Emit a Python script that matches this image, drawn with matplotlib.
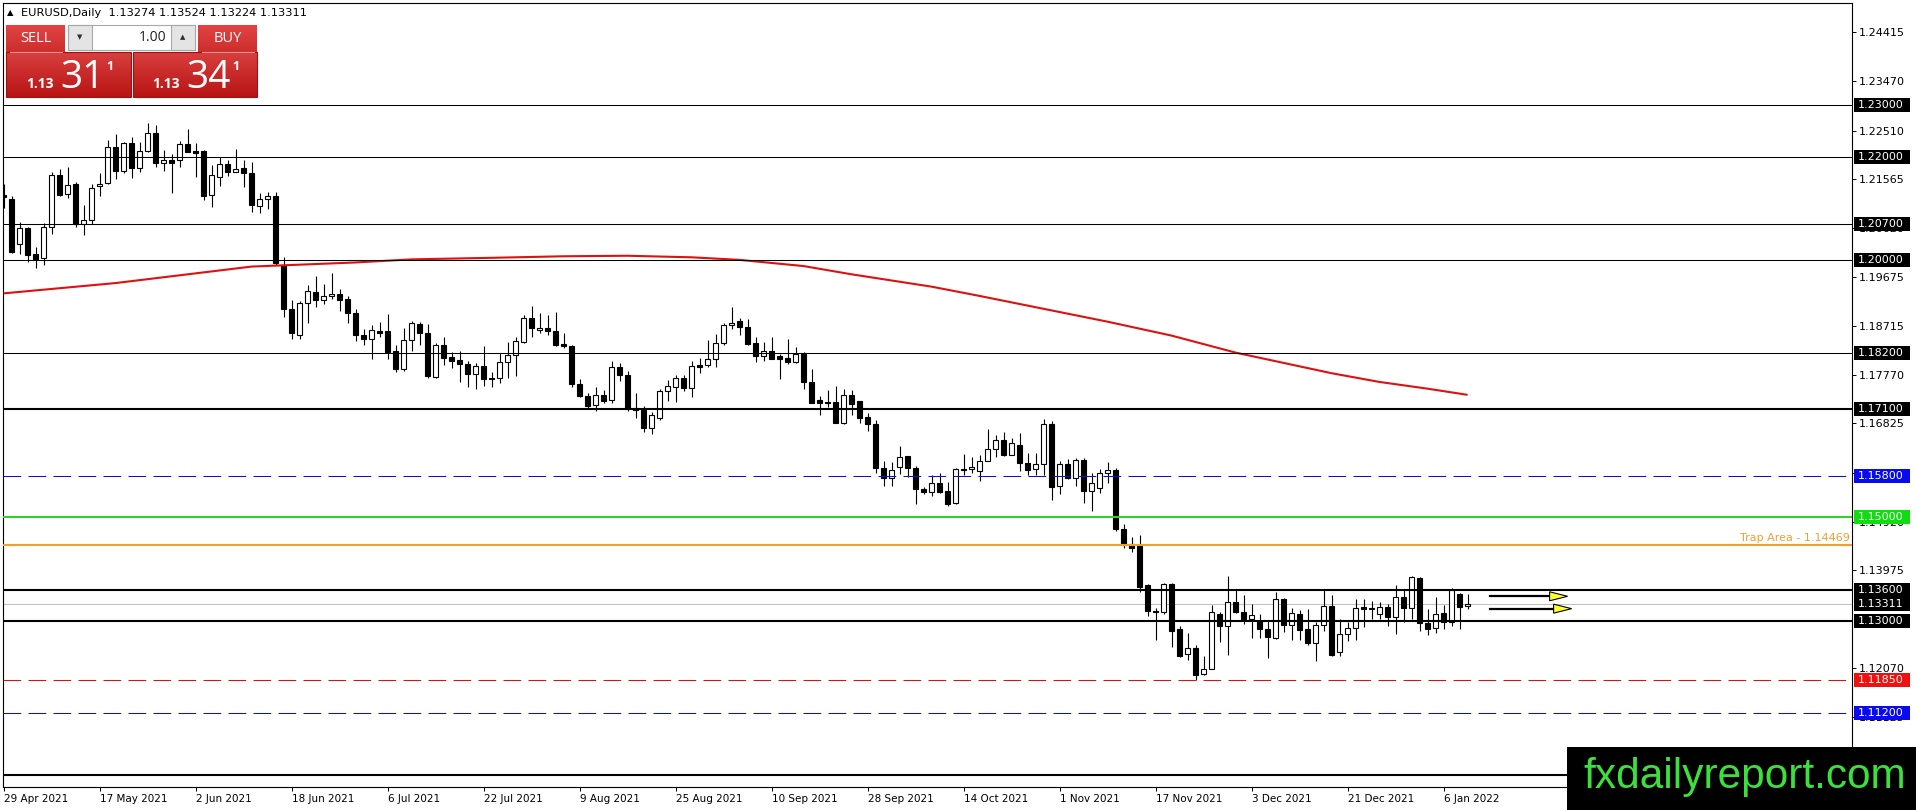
import matplotlib
matplotlib.use("Agg")
import matplotlib.pyplot as plt
from matplotlib.patches import Rectangle, Polygon
import numpy as np

plt.rcParams['font.family'] = ['DejaVu Sans']

W, H = 1916, 810

# ---------------- data ----------------
header = "EURUSD,Daily  1.13274 1.13524 1.13224 1.13311"

opens = [1.2125, 1.2119, 1.2030, 1.2062, 1.2011, 1.2003, 1.2063, 1.2164, 1.2127, 1.2147,
         1.2069, 1.2078, 1.2144, 1.2150, 1.2220, 1.2173, 1.2227, 1.2179, 1.2211, 1.2247,
         1.2188, 1.2194, 1.2193, 1.2225, 1.2211, 1.2211, 1.2125, 1.2160, 1.2187, 1.2171,
         1.2178, 1.2169, 1.2105, 1.2118, 1.2124, 1.1991, 1.1904, 1.1855, 1.1916, 1.1938,
         1.1923, 1.1929, 1.1933, 1.1924, 1.1897, 1.1855, 1.1847, 1.1862, 1.1862, 1.1823,
         1.1788, 1.1845, 1.1875, 1.1859, 1.1773, 1.1834, 1.1811, 1.1805, 1.1798, 1.1779,
         1.1794, 1.1771, 1.1770, 1.1802, 1.1815, 1.1841, 1.1887, 1.1863, 1.1868, 1.1862,
         1.1837, 1.1833, 1.1760, 1.1735, 1.1718, 1.1738, 1.1728, 1.1793, 1.1776, 1.1712,
         1.1709, 1.1673, 1.1694, 1.1746, 1.1754, 1.1771, 1.1751, 1.1796, 1.1796, 1.1807,
         1.1838, 1.1874, 1.1881, 1.1869, 1.1838, 1.1814, 1.1824, 1.1813, 1.1810, 1.1801,
         1.1819, 1.1763, 1.1728, 1.1724, 1.1724, 1.1684, 1.1738, 1.1726, 1.1695, 1.1681,
         1.1596, 1.1576, 1.1597, 1.1619, 1.1596, 1.1555, 1.1550, 1.1566, 1.1551, 1.1528,
         1.1594, 1.1594, 1.1590, 1.1609, 1.1633, 1.1651, 1.1622, 1.1641, 1.1606, 1.1594,
         1.1603, 1.1682, 1.1562, 1.1604, 1.1577, 1.1612, 1.1551, 1.1557, 1.1587, 1.1593,
         1.1478, 1.1449, 1.1445, 1.1368, 1.1319, 1.1316, 1.1370, 1.1284, 1.1235, 1.1246,
         1.1196, 1.1206, 1.1313, 1.1289, 1.1336, 1.1317, 1.1302, 1.1299, 1.1284, 1.1266,
         1.1341, 1.1292, 1.1312, 1.1284, 1.1257, 1.1292, 1.1329, 1.1239, 1.1274, 1.1286,
         1.1327, 1.1325, 1.1312, 1.1327, 1.1306, 1.1346, 1.1325, 1.1383, 1.1295, 1.1286,
         1.1314, 1.1297, 1.1352, 1.13274]
highs = [1.2148, 1.2124, 1.2074, 1.2063, 1.2025, 1.2071, 1.2171, 1.2177, 1.2180, 1.2151,
         1.2106, 1.2147, 1.2168, 1.2232, 1.2244, 1.2228, 1.2238, 1.2228, 1.2265, 1.2261,
         1.2214, 1.2205, 1.2230, 1.2254, 1.2227, 1.2213, 1.2185, 1.2200, 1.2193, 1.2216,
         1.2193, 1.2190, 1.2130, 1.2132, 1.2132, 1.2005, 1.1923, 1.1921, 1.1951, 1.1969,
         1.1954, 1.1974, 1.1943, 1.1930, 1.1904, 1.1865, 1.1874, 1.1879, 1.1894, 1.1834,
         1.1867, 1.1882, 1.1879, 1.1875, 1.1838, 1.1850, 1.1821, 1.1824, 1.1804, 1.1800,
         1.1832, 1.1783, 1.1819, 1.1841, 1.1850, 1.1893, 1.1910, 1.1897, 1.1893, 1.1899,
         1.1858, 1.1835, 1.1769, 1.1741, 1.1753, 1.1748, 1.1804, 1.1800, 1.1785, 1.1741,
         1.1716, 1.1705, 1.1750, 1.1766, 1.1777, 1.1777, 1.1803, 1.1809, 1.1845, 1.1857,
         1.1877, 1.1908, 1.1888, 1.1885, 1.1850, 1.1840, 1.1850, 1.1817, 1.1846, 1.1830,
         1.1822, 1.1788, 1.1735, 1.1747, 1.1755, 1.1749, 1.1747, 1.1726, 1.1703, 1.1689,
         1.1610, 1.1607, 1.1639, 1.1620, 1.1600, 1.1559, 1.1583, 1.1586, 1.1569, 1.1596,
         1.1623, 1.1617, 1.1621, 1.1671, 1.1661, 1.1666, 1.1654, 1.1664, 1.1625, 1.1625,
         1.1692, 1.1687, 1.1609, 1.1614, 1.1616, 1.1616, 1.1586, 1.1594, 1.1607, 1.1596,
         1.1488, 1.1462, 1.1465, 1.1370, 1.1324, 1.1373, 1.1372, 1.1289, 1.1275, 1.1253,
         1.1231, 1.1331, 1.1316, 1.1386, 1.1359, 1.1349, 1.1333, 1.1312, 1.1299, 1.1355,
         1.1344, 1.1325, 1.1320, 1.1323, 1.1297, 1.1359, 1.1349, 1.1303, 1.1297, 1.1342,
         1.1342, 1.1338, 1.1336, 1.1333, 1.1368, 1.1359, 1.1386, 1.1385, 1.1323, 1.1346,
         1.1331, 1.1363, 1.1354, 1.13524]
lows = [1.2100, 1.2014, 1.2011, 1.1996, 1.1985, 1.1990, 1.2050, 1.2124, 1.2120, 1.2064,
        1.2049, 1.2069, 1.2124, 1.2148, 1.2157, 1.2168, 1.2159, 1.2170, 1.2210, 1.2181,
        1.2173, 1.2130, 1.2181, 1.2210, 1.2161, 1.2117, 1.2102, 1.2144, 1.2162, 1.2170,
        1.2142, 1.2093, 1.2091, 1.2099, 1.1990, 1.1890, 1.1846, 1.1846, 1.1878, 1.1909,
        1.1914, 1.1925, 1.1901, 1.1877, 1.1843, 1.1835, 1.1807, 1.1850, 1.1807, 1.1782,
        1.1784, 1.1824, 1.1835, 1.1771, 1.1771, 1.1795, 1.1791, 1.1762, 1.1754, 1.1750,
        1.1756, 1.1754, 1.1761, 1.1771, 1.1774, 1.1838, 1.1851, 1.1859, 1.1855, 1.1832,
        1.1829, 1.1754, 1.1734, 1.1711, 1.1706, 1.1723, 1.1722, 1.1765, 1.1706, 1.1693,
        1.1665, 1.1662, 1.1690, 1.1727, 1.1725, 1.1745, 1.1733, 1.1780, 1.1793, 1.1793,
        1.1835, 1.1865, 1.1854, 1.1835, 1.1801, 1.1804, 1.1808, 1.1769, 1.1798, 1.1799,
        1.1749, 1.1723, 1.1699, 1.1714, 1.1684, 1.1681, 1.1699, 1.1684, 1.1667, 1.1587,
        1.1561, 1.1561, 1.1585, 1.1578, 1.1526, 1.1546, 1.1541, 1.1548, 1.1522, 1.1526,
        1.1583, 1.1587, 1.1570, 1.1609, 1.1618, 1.1619, 1.1621, 1.1590, 1.1583, 1.1583,
        1.1583, 1.1533, 1.1546, 1.1575, 1.1562, 1.1528, 1.1512, 1.1548, 1.1567, 1.1473,
        1.1441, 1.1432, 1.1355, 1.1308, 1.1262, 1.1313, 1.1248, 1.1229, 1.1224, 1.1184,
        1.1195, 1.1205, 1.1258, 1.1234, 1.1315, 1.1294, 1.1266, 1.1266, 1.1228, 1.1264,
        1.1277, 1.1263, 1.1263, 1.1253, 1.1221, 1.1279, 1.1232, 1.1232, 1.1260, 1.1263,
        1.1288, 1.1303, 1.1302, 1.1289, 1.1273, 1.1297, 1.1303, 1.1279, 1.1272, 1.1276,
        1.1283, 1.1289, 1.1284, 1.13224]
closes = [1.2122, 1.2015, 1.2061, 1.2010, 1.2002, 1.2063, 1.2164, 1.2126, 1.2146, 1.2069,
          1.2078, 1.2139, 1.2148, 1.2220, 1.2173, 1.2227, 1.2179, 1.2212, 1.2247, 1.2188,
          1.2194, 1.2188, 1.2225, 1.2210, 1.2208, 1.2124, 1.2164, 1.2187, 1.2171, 1.2177,
          1.2169, 1.2107, 1.2118, 1.2124, 1.1993, 1.1905, 1.1859, 1.1916, 1.1939, 1.1922,
          1.1929, 1.1933, 1.1923, 1.1896, 1.1855, 1.1847, 1.1864, 1.1859, 1.1822, 1.1789,
          1.1845, 1.1877, 1.1859, 1.1775, 1.1834, 1.1810, 1.1804, 1.1797, 1.1779, 1.1794,
          1.1769, 1.1768, 1.1802, 1.1815, 1.1842, 1.1887, 1.1868, 1.1868, 1.1861, 1.1834,
          1.1832, 1.1760, 1.1735, 1.1717, 1.1737, 1.1727, 1.1793, 1.1776, 1.1710, 1.1708,
          1.1673, 1.1699, 1.1746, 1.1756, 1.1771, 1.1751, 1.1794, 1.1793, 1.1807, 1.1838,
          1.1874, 1.1877, 1.1869, 1.1837, 1.1814, 1.1824, 1.1808, 1.1808, 1.1801, 1.1817,
          1.1762, 1.1723, 1.1723, 1.1723, 1.1684, 1.1737, 1.1720, 1.1694, 1.1681, 1.1596,
          1.1576, 1.1592, 1.1618, 1.1596, 1.1555, 1.1550, 1.1566, 1.1550, 1.1526, 1.1594,
          1.1592, 1.1598, 1.1610, 1.1633, 1.1651, 1.1621, 1.1645, 1.1606, 1.1593, 1.1603,
          1.1682, 1.1559, 1.1604, 1.1577, 1.1611, 1.1551, 1.1567, 1.1586, 1.1593, 1.1477,
          1.1449, 1.1441, 1.1365, 1.1318, 1.1316, 1.1370, 1.1279, 1.1232, 1.1246, 1.1195,
          1.1206, 1.1316, 1.1289, 1.1336, 1.1317, 1.1302, 1.1311, 1.1284, 1.1268, 1.1342,
          1.1292, 1.1315, 1.1281, 1.1257, 1.1292, 1.1329, 1.1234, 1.1274, 1.1286, 1.1325,
          1.1323, 1.1323, 1.1327, 1.1306, 1.1346, 1.1325, 1.1385, 1.1295, 1.1283, 1.1312,
          1.1297, 1.1359, 1.1326, 1.13311]

date_ticks = list(range(0, 181, 12))
date_labels = ["29 Apr 2021", "17 May 2021", "2 Jun 2021", "18 Jun 2021", "6 Jul 2021",
               "22 Jul 2021", "9 Aug 2021", "25 Aug 2021", "10 Sep 2021", "28 Sep 2021",
               "14 Oct 2021", "1 Nov 2021", "17 Nov 2021", "3 Dec 2021", "21 Dec 2021",
               "6 Jan 2022"]

# scale values that are not hidden behind a level box
price_ticks = [1.24415, 1.23470, 1.22510, 1.21565, 1.20620, 1.19675, 1.18715, 1.17770,
               1.16825, 1.15865, 1.14920, 1.13975, 1.12070, 1.11125]

# moving average, read at a few bars
ma_bar = [0, 14, 31, 44, 51, 61, 70, 78, 86, 92, 100, 106, 111, 116, 122, 130, 138,
          146, 154, 160, 166, 172, 178, 183]
ma_val = [1.1935, 1.1955, 1.1987, 1.1995, 1.2001, 1.2004, 1.2007, 1.2008, 1.2005, 1.2000,
          1.1988, 1.1972, 1.1960, 1.1948, 1.1930, 1.1905, 1.1880, 1.1853, 1.1820, 1.1800,
          1.1780, 1.1763, 1.1750, 1.1738]

# horizontal levels: value, line colour, style, width, label box colour
levels = [1.2300, 1.2200, 1.2070, 1.2000, 1.1820, 1.1710, 1.1580, 1.1500, 1.1360,
          1.1300, 1.1185, 1.1120, 1.1000]
level_colors = ['black'] * 6 + ['#1010C8', '#33CC33', 'black', 'black', '#DD1010',
                                '#1010C8', 'black']
level_dashed = [False] * 6 + [True, False, False, False, True, True, False]
level_widths = [0.75] * 5 + [1.5, 0.75, 1.5, 1.5, 1.5, 0.75, 0.75, 1.5]
box_colors = ['black'] * 6 + ['#0A0AF0', '#10DD10', 'black', 'black', '#F01010',
                              '#0A0AF0', 'black']

trap_level = 1.14469
bid_level = 1.13311

arrow_y = [1.1347, 1.1323]
arrow_start = [185.8, 185.8]
arrow_tip = [195.5, 196.0]

# ---------------- figure ----------------
fig = plt.figure(figsize=(W / 100, H / 100), dpi=100)
fig.patch.set_facecolor('white')
ax = fig.add_axes([2.7 / W, 1 - 786.7 / H, (1852 - 2.7) / W, (786.7 - 2.7) / H])
ax.set_xlim(-0.11, 231.05)
ax.set_ylim(1.09774, 1.24992)

px_y = (1.24992 - 1.09774) / 784.0   # price per pixel

for s in ax.spines.values():
    s.set_linewidth(0.8)
    s.set_color('black')

# levels
for v, c, d, lw in zip(levels, level_colors, level_dashed, level_widths):
    if d:
        ax.axhline(v, color=c, lw=0.75, dashes=(17, 7), zorder=4)
    else:
        ax.axhline(v, color=c, lw=lw, zorder=4)
ax.axhline(trap_level, color='#F0A030', lw=1.5, zorder=4)
ax.axhline(bid_level, color='#C0C0C0', lw=0.75, zorder=1)
ax.text(230.8, trap_level + px_y * 1.5, "Trap Area - 1.14469", color='#F0A030',
        fontsize=8, ha='right', va='bottom', zorder=5)

# candles
x = np.arange(len(opens))
o = np.array(opens)
c = np.array(closes)
ax.vlines(x, lows, highs, color='black', lw=0.8, zorder=2)
bull = c >= o
bot = np.minimum(o, c)
hgt = np.maximum(np.abs(c - o), px_y * 0.3)
ax.bar(x[bull], hgt[bull], bottom=bot[bull], width=0.6, facecolor='white',
       edgecolor='black', linewidth=0.8, zorder=3)
ax.bar(x[~bull], hgt[~bull], bottom=bot[~bull], width=0.6, facecolor='black',
       edgecolor='black', linewidth=0.8, zorder=3)

# moving average
ax.plot(ma_bar, ma_val, color='#DD1111', lw=1.5, zorder=3.5, solid_capstyle='butt')

# arrows
for yv, x0, xt in zip(arrow_y, arrow_start, arrow_tip):
    ax.plot([x0, xt - 2.2], [yv, yv], color='black', lw=1.6, zorder=5)
    hh = px_y * 4.5
    ax.add_patch(Polygon([[xt - 2.25, yv + hh], [xt, yv], [xt - 2.25, yv - hh]],
                         closed=True, facecolor='#FFFF30', edgecolor='black',
                         lw=0.8, zorder=6))

# axes ticks
ax.yaxis.tick_right()
ax.set_yticks(price_ticks)
ax.set_yticklabels(["%.5f" % t for t in price_ticks])
ax.tick_params(axis='y', length=3, width=0.7, pad=2, labelsize=8, colors='black')
ax.set_xticks(date_ticks)
ax.set_xticklabels(date_labels)
ax.tick_params(axis='x', length=3, width=0.7, pad=2.5, labelsize=7.5, colors='black')
for lbl in ax.get_xticklabels():
    lbl.set_horizontalalignment('left')

# price label boxes on the right scale
ytr = ax.get_yaxis_transform()
bx0 = (1854 - 2.7) / (1852 - 2.7)
bw = (1910 - 1854) / (1852 - 2.7)
bh = px_y * 14
for v, bc in zip(levels + [bid_level], box_colors + ['black']):
    ax.add_patch(Rectangle((bx0, v - bh / 2), bw, bh, transform=ytr, facecolor=bc,
                           edgecolor='none', clip_on=False, zorder=7))
    ax.text(bx0 + 4 / 1849.3, v, "%.5f" % v, transform=ytr, color='white', fontsize=8,
            va='center', ha='left', clip_on=False, zorder=8)

# ---------------- overlay (panel, header, watermark) ----------------
ov = fig.add_axes([0, 0, 1, 1], zorder=10)
ov.set_xlim(0, W)
ov.set_ylim(H, 0)
ov.axis('off')
ov.patch.set_alpha(0)


def grad_box(x0, y0, x1, y1, top, bottom, edge=None):
    g = np.linspace(0, 1, 64)[:, None, None]
    t = np.array(matplotlib.colors.to_rgb(top))[None, None, :]
    b = np.array(matplotlib.colors.to_rgb(bottom))[None, None, :]
    img = t * (1 - g) + b * g
    ov.imshow(img, extent=(x0, x1, y1, y0), aspect='auto', interpolation='bilinear',
              zorder=2)
    if edge:
        ov.add_patch(Rectangle((x0, y0), x1 - x0, y1 - y0, facecolor='none',
                               edgecolor=edge, lw=0.8, zorder=3))


ov.text(7, 13, "\u25B2", fontsize=6, va='center', ha='left', color='black')
ov.text(21, 13, header, fontsize=8.2, va='center', ha='left', color='black')

# sell / buy buttons
grad_box(6, 25, 65, 52, '#E04442', '#CC2E2C')
grad_box(198, 25, 257, 52, '#E04442', '#CC2E2C')
ov.plot([10, 62], [51.5, 51.5], color='#F09090', lw=0.8, zorder=4)
ov.plot([202, 254], [51.5, 51.5], color='#F09090', lw=0.8, zorder=4)
ov.text(35.5, 38.5, "SELL", color='white', fontsize=10.5, family='Open Sans',
        ha='center', va='center', zorder=5)
ov.text(227.5, 38.5, "BUY", color='white', fontsize=10.5, family='Open Sans',
        ha='center', va='center', zorder=5)

# lot spinner
ov.add_patch(Rectangle((68, 25), 127, 25, facecolor='white', edgecolor='#A8A8A8',
                       lw=0.8, zorder=3))
ov.add_patch(Rectangle((68, 25), 24, 25, facecolor='#E4E4E4', edgecolor='#A8A8A8',
                       lw=0.8, zorder=3))
ov.add_patch(Rectangle((171, 25), 24, 25, facecolor='#E4E4E4', edgecolor='#A8A8A8',
                       lw=0.8, zorder=3))
ov.text(80, 37.5, "\u25BC", fontsize=5, ha='center', va='center', color='#303030', zorder=5)
ov.text(183, 37.5, "\u25B2", fontsize=5, ha='center', va='center', color='#303030', zorder=5)
ov.text(166, 37.5, "1.00", fontsize=10, family='Open Sans', ha='right', va='center',
        color='#202020', zorder=5)

# price boxes
grad_box(6, 52, 131, 97, '#D8403E', '#B81414', edge='#A01010')
grad_box(133, 52, 257, 97, '#D8403E', '#B81414', edge='#A01010')
for x0, big in [(26, "31"), (152, "34")]:
    ov.text(x0, 88, "1.13", fontsize=10, family='Open Sans', weight='bold',
            color='white', ha='left', va='baseline', zorder=5)
    ov.text(x0 + 34, 88, big, fontsize=28, family='Open Sans', color='white',
            ha='left', va='baseline', zorder=5)
    ov.text(x0 + 80, 66, "1", fontsize=9, family='Open Sans', weight='bold',
            color='white', ha='left', va='center', zorder=5)

# watermark
ov.add_patch(Rectangle((1567, 747), W - 1567, H - 747, facecolor='black',
                       edgecolor='none', zorder=3))
ov.text(1583, 788, "fxdailyreport.com", family='Liberation Sans', fontsize=30.5,
        color='#3CE03C', ha='left', va='baseline', zorder=5)

fig.savefig("out.png", dpi=100, facecolor='white')
